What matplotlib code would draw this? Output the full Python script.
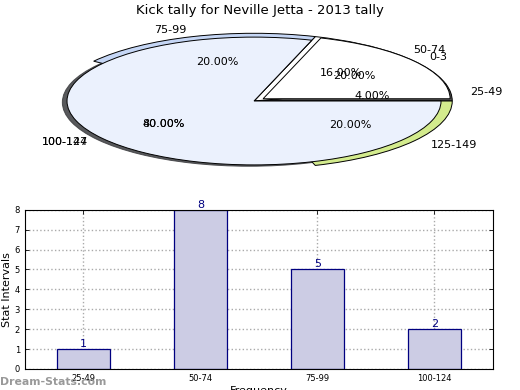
import matplotlib
matplotlib.use('Agg')
import matplotlib.pyplot as plt

# back pie (six tally bins)
back_labels = ['25-49', '50-74', '75-99', '100-147', '125-149']
back_sizes = [4, 16, 20, 40, 20]
back_colors = ['#555555', 'white', '#c5d6f5', 'white', '#d3eb8d']

# front pie
front_labels = ['0-3', '100-124']
front_sizes = [20, 80]
front_colors = ['white', '#ebf1fd']

# bar chart
bar_labels = ['25-49', '50-74', '75-99', '100-124']
bar_values = [1, 8, 5, 2]

fig = plt.figure(figsize=(5.2, 3.9), dpi=100)
fig.suptitle('Kick tally for Neville Jetta - 2013 tally', fontsize=9.5, y=0.99)

# pie axes: squashed ellipse, aspect not equal
ax1 = fig.add_axes([0.021, 0.528, 0.935, 0.426])
wedges_b, texts_b, auto_b = ax1.pie(back_sizes, labels=back_labels, colors=back_colors,
                                    autopct='%.2f%%', radius=1.06,
                                    wedgeprops=dict(edgecolor='black', linewidth=0.7),
                                    textprops=dict(fontsize=8))
# the big back slice is not drawn
wedges_b[3].set_facecolor('none')
wedges_b[3].set_edgecolor('none')

wedges_f, texts_f, auto_f = ax1.pie(front_sizes, labels=front_labels, colors=front_colors,
                                    autopct='%.2f%%', explode=[0.06, 0],
                                    shadow=dict(ox=-0.018, oy=-0.015, shade=0.75, alpha=0.85),
                                    wedgeprops=dict(edgecolor='black', linewidth=0.7),
                                    textprops=dict(fontsize=8))
# labels of the two big slices sit on top of each other
texts_b[3].set_position(texts_f[1].get_position())
auto_b[3].set_position(auto_f[1].get_position())

ax1.set_aspect('auto')
ax1.set_xlim(-1.3, 1.3)
ax1.set_ylim(-1.3, 1.3)
ax1.axis('off')

# bar axes
ax2 = fig.add_axes([0.048, 0.054, 0.9, 0.408])
x = range(len(bar_labels))
bars = ax2.bar(x, bar_values, width=0.45, color='#ccccE4', edgecolor='#000080', linewidth=0.9, zorder=2)
for xi, v in zip(x, bar_values):
    ax2.text(xi, v, str(v), ha='center', va='bottom', fontsize=8, color='#000080')
ax2.set_xlim(-0.5, 3.5)
ax2.set_ylim(0, 8)
ax2.set_xticks(list(x))
ax2.set_xticklabels(bar_labels, fontsize=6)
ax2.set_yticks(range(0, 9))
ax2.tick_params(axis='y', labelsize=6)
ax2.tick_params(direction='in', top=True, right=True, length=3, width=0.6)
ax2.grid(True, linestyle=':', color='#aaaaaa', linewidth=1, zorder=0)
ax2.set_axisbelow(True)
ax2.set_ylabel('Stat Intervals', fontsize=8, labelpad=2)
ax2.set_xlabel('Frequency', fontsize=8, labelpad=2)

fig.text(0.0, 0.013, 'Dream-Stats.com', fontsize=7.8, color='#999999', fontweight='semibold')

fig.savefig('out.png', dpi=100)
